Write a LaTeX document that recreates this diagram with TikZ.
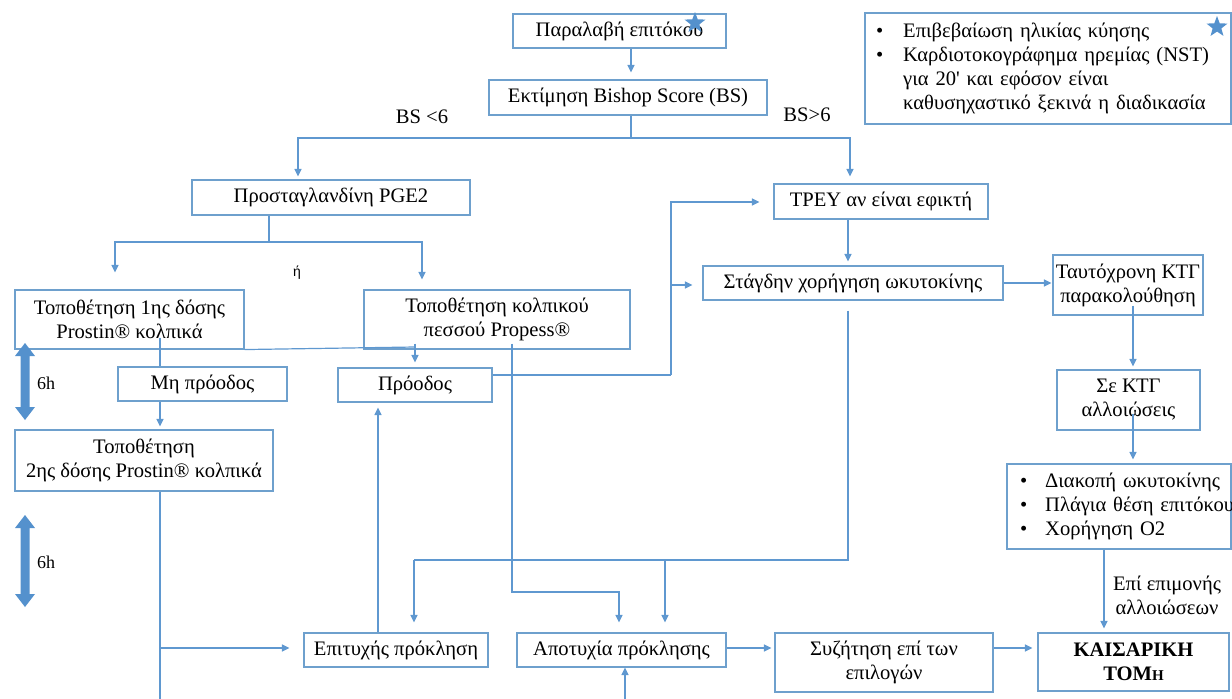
\documentclass[tikz,border=0pt]{standalone}
\usepackage{fontspec}
\setmainfont{Liberation Serif}
\setsansfont{Liberation Sans}
\usetikzlibrary{arrows.meta,calc,shapes.geometric}
\definecolor{linec}{RGB}{95,152,208}
\definecolor{boxc}{RGB}{110,160,205}
\definecolor{fatc}{RGB}{84,145,205}
\newcommand\mainsz{\fontsize{20.6}{24}\selectfont}
\tikzset{
  box/.style={draw=boxc, line width=1.1pt, inner sep=0pt, align=center, font=\mainsz},
  ln/.style={draw=linec, line width=1.2pt},
  arr/.style={ln, -{Triangle[length=7.5pt,width=7pt]}},
  lbl/.style={inner sep=0pt, font=\mainsz, align=center},
  fatarrow/.style={fill=fatc},
  bluestar/.style={star, star points=5, star point ratio=2.4, fill=fatc, minimum size=22pt, inner sep=0pt}
}
\begin{document}
\begin{tikzpicture}[x=1pt,y=-1pt]
\useasboundingbox (0,0) rectangle (1232,699);
% nodes
\node[box, minimum width=213, minimum height=34] (n1) at (619.5,31) {Παραλαβή επιτόκου};
\node[box, minimum width=278, minimum height=35] (n2) at (628,97.5) {Εκτίμηση Bishop Score (BS)};
\node[box, minimum width=278, minimum height=35] (pge) at (331,197.5) {Προσταγλανδίνη PGE2};
\node[box, minimum width=214, minimum height=35] (tpey) at (881,201.5) {TPEY αν είναι εφικτή};
\node[box, minimum height=111, text width=344pt, inner xsep=11pt, align=left] (info) at (1048,68.5)
  {\begin{tabular}{@{}l@{\hspace{20pt}}l@{}}
   \textbullet & Επιβεβαίωση ηλικίας κύησης\\
   \textbullet & Καρδιοτοκογράφημα ηρεμίας (NST)\\
   & για 20\textquotesingle{} και εφόσον είναι\\
   & καθυσηχαστικό ξεκινά η διαδικασία
   \end{tabular}};
\node[box, minimum width=229, minimum height=59] (p1) at (129.5,319.5) {Τοποθέτηση 1ης δόσης\\Prostin® κολπικά};
\node[box, minimum width=266, minimum height=59] (prop) at (497,319.5) {Τοποθέτηση κολπικού\\πεσσού Propess®};
\node[box, minimum width=169, minimum height=34] (mh) at (202.5,384) {Μη πρόοδος};
\node[box, minimum width=154, minimum height=34] (proodos) at (415,385) {Πρόοδος};
\node[box, minimum width=258, minimum height=61] (p2) at (144,460.5) {Τοποθέτηση\\2ης δόσης Prostin® κολπικά};
\node[box, minimum width=300, minimum height=34] (stag) at (853,283) {Στάγδην χορήγηση ωκυτοκίνης};
\node[box, minimum width=150, minimum height=60] (tayt) at (1128,285) {Ταυτόχρονη ΚΤΓ\\παρακολούθηση};
\node[box, minimum width=143, minimum height=60] (sektg) at (1128.5,400) {Σε ΚΤΓ\\αλλοιώσεις};
\node[box, minimum height=85, text width=198pt, inner xsep=13pt, align=left] (bul) at (1119,506.5)
  {\begin{tabular}{@{}l@{\hspace{18pt}}l@{}}
   \textbullet & Διακοπή ωκυτοκίνης\\
   \textbullet & Πλάγια θέση επιτόκου\\
   \textbullet & Χορήγηση Ο2
   \end{tabular}};
\node[box, minimum width=184, minimum height=34] (epit) at (396,650) {Επιτυχής πρόκληση};
\node[box, minimum width=209, minimum height=34] (apot) at (621.5,650) {Αποτυχία πρόκλησης};
\node[box, minimum width=218, minimum height=59] (syz) at (884,662.5) {Συζήτηση επί των\\επιλογών};
\node[box, minimum width=191, minimum height=58] (kais) at (1133.5,662) {\textbf{ΚΑΙΣΑΡΙΚΗ}\\\textbf{ΤΟΜ{\fontsize{15}{15}\selectfont Η}}};
% labels
\node[lbl] (bs1) at (422,117) {BS <6};
\node[lbl] (bs2) at (807,115) {BS>6};
\node[inner sep=0pt, font=\sffamily\fontsize{14}{14}\selectfont] (or) at (297,273) {ή};
\node[lbl] (epim) at (1167,595) {Επί επιμονής\\αλλοιώσεων};
\node[inner sep=0pt, font=\fontsize{18}{18}\selectfont, anchor=west] (h1) at (37,383) {6h};
\node[inner sep=0pt, font=\fontsize{18}{18}\selectfont, anchor=west] (h2) at (37,562) {6h};
% stars
\node[bluestar] (star1) at (695,23) {};
\node[bluestar] (star2) at (1217,27) {};
% fat double arrows
\fill[fatarrow] (25,343) -- (35,356) -- (29.5,356) -- (29.5,407) -- (35,407) -- (25,420) -- (15,407) -- (20.5,407) -- (20.5,356) -- (15,356) -- cycle;
\fill[fatarrow] (25,515) -- (35,528) -- (29.5,528) -- (29.5,594) -- (35,594) -- (25,607) -- (15,594) -- (20.5,594) -- (20.5,528) -- (15,528) -- cycle;
% junction coordinates
\coordinate (j1) at (631,138);
\coordinate (j2) at (269,242);
\coordinate (j3) at (415,347);
\coordinate (j5) at (619,592);
\coordinate (j6) at (414,560);
\coordinate (j7) at (665,560);
\coordinate (j8) at (671,375);
\coordinate (j9) at (671,285);
\coordinate (j10) at (160,648);
\coordinate (botL) at (160,699);
\coordinate (botR) at (625,699);
% connectors
\draw[arr] ($(n1.south)+(11.5,0)$) -- ($(n2.north)+(3,-7)$);
\draw[ln] ($(n2.south)+(3,0)$) -- (j1);
\draw[arr] (j1) -| ($(pge.north)+(-33,-3)$);
\draw[arr] (j1) -| ($(tpey.north)+(-31,-7)$);
\draw[ln] ($(pge.south)+(-62,0)$) -- (j2);
\draw[arr] (j2) -| ($(p1.north)+(-14.5,-17)$);
\draw[arr] (j2) -| ($(prop.north)+(-75,-10)$);
\draw[ln] ($(p1.south)+(30.5,-12)$) -- ($(mh.north)+(-42.5,0)$);
\draw[arr] ($(mh.south)+(-42.5,0)$) -- ($(p2.north)+(16,-3)$);
\draw[ln] (p1.south east) -- (j3);
\draw[ln] ($(prop.south)+(-82,-6)$) -- (j3);
\draw[arr] (j3) -- ($(proodos.north)+(0,-5)$);
\draw[arr] ($(prop.south)+(15,-6)$) |- (j5) -- ($(apot.north)+(-2.5,-10)$);
\draw[arr] ($(epit.north)+(-18,0)$) -- ($(proodos.south)+(-37,5)$);
\draw[ln] ($(p2.south)+(16,0)$) -- (botL);
\draw[arr] (j10) -- ($(epit.west)+(-14,-2)$);
\draw[arr] (botR) -- ($(apot.south)+(3.5,0)$);
\draw[ln] ($(stag.south)+(-5,10)$) |- (j6);
\draw[arr] (j6) -- ($(epit.north)+(18,-10)$);
\draw[arr] (j7) -- ($(apot.north)+(43.5,-10)$);
\draw[ln] ($(proodos.east)+(0,-10)$) -- (j8);
\draw[arr] (j8) |- ($(tpey.west)+(-14,0.5)$);
\draw[arr] (j9) -- ($(stag.west)+(-10,2)$);
\draw[arr] ($(tpey.south)+(-33,0)$) -- ($(stag.north)+(-5,-4)$);
\draw[arr] ($(stag.east)+(0,0)$) -- ($(tayt.west)+(-1,-2)$);
\draw[arr] ($(tayt.south)+(5,-10)$) -- ($(sektg.north)+(4.5,-3)$);
\draw[arr] ($(sektg.south)+(4.5,-17)$) -- ($(bul.north)+(14,-4)$);
\draw[arr] ($(bul.south)+(-15,0)$) -- ($(kais.north)+(-29.5,-4)$);
\draw[arr] ($(apot.east)+(0,-2)$) -- ($(syz.west)+(-3,-14.5)$);
\draw[arr] ($(syz.east)+(0,-14.5)$) -- ($(kais.west)+(-5,-14)$);
\end{tikzpicture}
\end{document}
